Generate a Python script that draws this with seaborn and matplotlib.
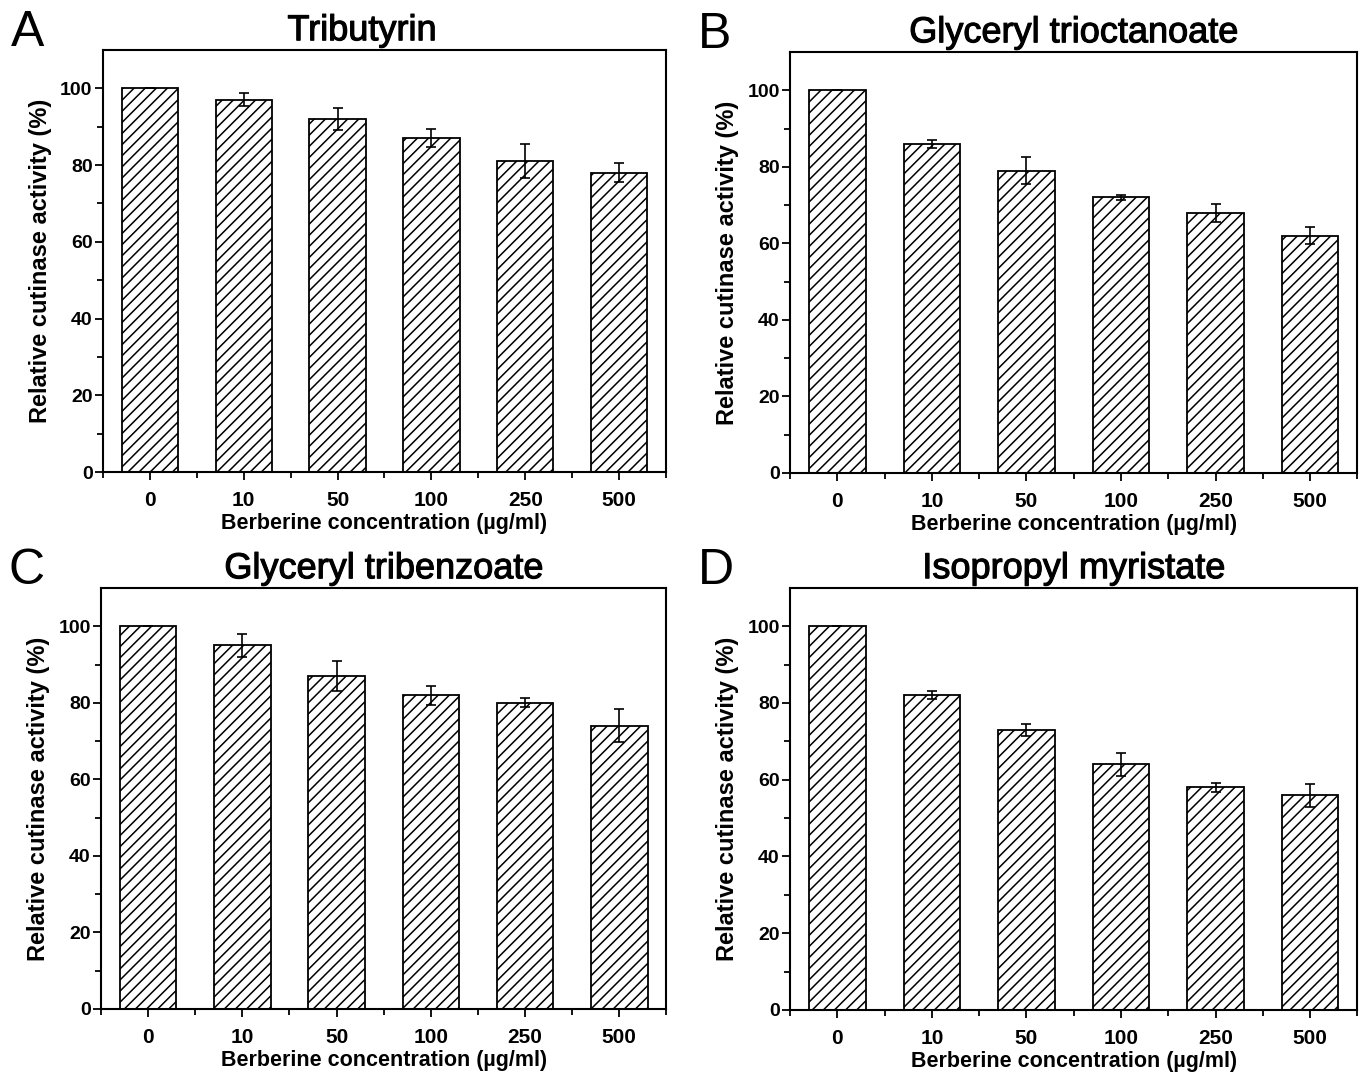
import pandas as pd
import seaborn as sns
import matplotlib.pyplot as plt
import matplotlib.patheffects as pe
from matplotlib.ticker import FixedLocator

# datos
conc = ["0", "10", "50", "100", "250", "500"]

tributyrin = [100, 97, 92, 87, 81, 78]
tributyrin_err = [0, 1.7, 2.8, 2.3, 4.5, 2.5]

trioctanoate = [100, 86, 79, 72, 68, 62]
trioctanoate_err = [0, 1.0, 3.6, 0.6, 2.4, 2.2]

tribenzoate = [100, 95, 87, 82, 80, 74]
tribenzoate_err = [0, 3.0, 4.0, 2.5, 1.2, 4.3]

myristate = [100, 82, 73, 64, 58, 56]
myristate_err = [0, 1.0, 1.6, 3.0, 1.2, 3.0]

titles = ["Tributyrin", "Glyceryl trioctanoate", "Glyceryl tribenzoate", "Isopropyl myristate"]
letters = ["A", "B", "C", "D"]

sns.set_theme(style="ticks")
plt.rcParams['font.family'] = ['Liberation Sans', 'DejaVu Sans']
plt.rcParams['hatch.linewidth'] = 1.1
plt.rcParams['text.color'] = 'black'
plt.rcParams['axes.labelcolor'] = 'black'
plt.rcParams['xtick.color'] = 'black'
plt.rcParams['ytick.color'] = 'black'
plt.rcParams['axes.edgecolor'] = 'black'

fig = plt.figure(figsize=(13.6, 10.72), dpi=100)

# posiciones de los ejes (fraccion de figura)
boxes = [
    (0.0757, 0.5597, 0.414, 0.3937),
    (0.581, 0.5588, 0.417, 0.3927),
    (0.0743, 0.0588, 0.4157, 0.3927),
    (0.581, 0.0579, 0.417, 0.3937),
]
title_x = [0.46, 0.5, 0.5, 0.5]

series = [
    (tributyrin, tributyrin_err),
    (trioctanoate, trioctanoate_err),
    (tribenzoate, tribenzoate_err),
    (myristate, myristate_err),
]

for box, (vals, errs), title, letter, tx in zip(boxes, series, titles, letters, title_x):
    ax = fig.add_axes(box)
    df = pd.DataFrame({"conc": conc, "act": vals, "err": errs})
    sns.barplot(data=df, x="conc", y="act", color="white", edgecolor="black",
                linewidth=1.3, width=0.6, ax=ax)
    for p in ax.patches:
        p.set_hatch("///")
        p.set_facecolor("white")
    ax.errorbar(range(len(conc)), df["act"], yerr=df["err"], fmt="none",
                ecolor="black", elinewidth=1.2, capsize=3.5, capthick=1.2)

    ax.set_ylim(0, 110)
    ax.set_xlim(-0.5, 5.5)
    ax.yaxis.set_major_locator(FixedLocator([0, 20, 40, 60, 80, 100]))
    ax.yaxis.set_minor_locator(FixedLocator([10, 30, 50, 70, 90]))
    ax.xaxis.set_minor_locator(FixedLocator([-0.5, 0.5, 1.5, 2.5, 3.5, 4.5, 5.5]))
    ax.tick_params(axis="both", which="major", direction="out", length=6, width=1.3,
                   labelsize=14)
    ax.tick_params(axis="both", which="minor", direction="out", length=4, width=1.3)
    ax.tick_params(axis="x", which="major", pad=8, labelsize=15)
    ax.tick_params(axis="y", which="major", pad=1.5)
    for lab in ax.get_xticklabels() + ax.get_yticklabels():
        lab.set_fontweight("bold")

    for s in ax.spines.values():
        s.set_visible(True)
        s.set_linewidth(1.5)
        s.set_color("black")

    ax.set_xlabel("Berberine concentration (µg/ml)", fontsize=15.5, fontweight="bold", labelpad=2)
    ax.set_ylabel("Relative cutinase activity (%)", fontsize=17, fontweight="bold", labelpad=6)
    t = ax.set_title(title, fontsize=26, pad=7, x=tx)
    t.set_path_effects([pe.withStroke(linewidth=0.8, foreground="black")])

    x0, y0, w, h = box
    fig.text(x0 - 0.068, y0 + h + 0.004, letter, fontsize=36, ha="left", va="baseline")

fig.savefig("out.png", dpi=100)
